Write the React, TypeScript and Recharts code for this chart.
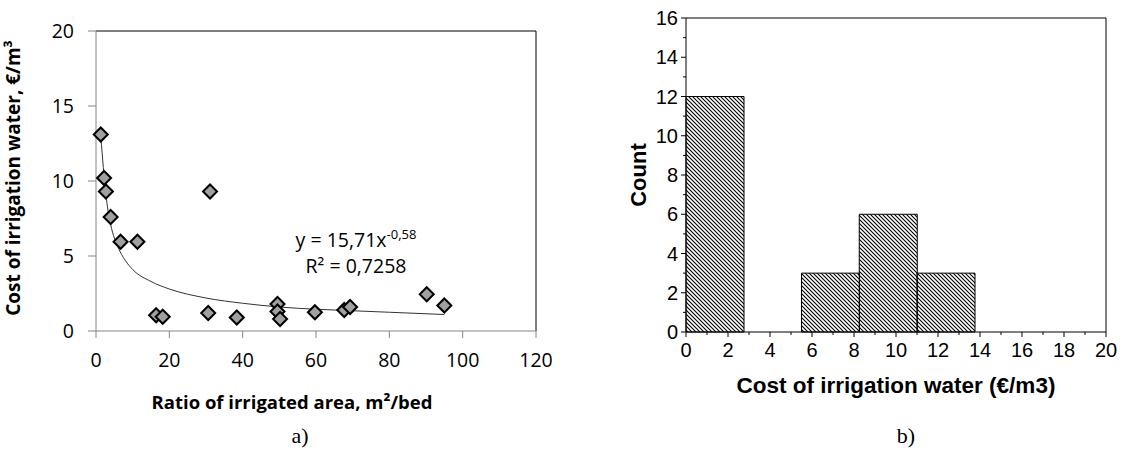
import React from 'react';
import { ComposedChart, Scatter, XAxis, YAxis, ReferenceLine, Bar } from 'recharts';

// ---- Panel a) scatter: ratio of irrigated area vs cost of irrigation water
const ratioX = [1.3, 2.2, 2.7, 4.0, 6.7, 11.3, 31.1, 16.4, 18.2, 30.6, 38.4, 49.5, 49.5, 50.2, 59.7, 67.7, 69.3, 90.2, 95.0];
const costY = [13.1, 10.2, 9.3, 7.6, 5.95, 5.95, 9.3, 1.05, 0.95, 1.2, 0.9, 1.8, 1.3, 0.8, 1.25, 1.4, 1.6, 2.45, 1.7];

// power trendline
const trendX = [1.3, 2, 3, 4, 6, 8, 10, 15, 20, 30, 40, 50, 60, 70, 80, 95];
const trendY = [13.0, 10.9, 8.5, 7.1, 5.6, 4.7, 4.1, 3.3, 2.8, 2.2, 1.85, 1.6, 1.45, 1.35, 1.25, 1.1];

const scatterXTicks = [0, 20, 40, 60, 80, 100, 120];
const scatterYTicks = [0, 5, 10, 15, 20];

// ---- Panel b) histogram
const binCenters = [1.375, 4.125, 6.875, 9.625, 12.375, 15.125, 17.875];
const binCounts = [12, 0, 3, 6, 3, 0, 0];
const histXTicks = [0, 1, 2, 3, 4, 5, 6, 7, 8, 9, 10, 11, 12, 13, 14, 15, 16, 17, 18, 19, 20];
const histYTicks = [0, 1, 2, 3, 4, 5, 6, 7, 8, 9, 10, 11, 12, 13, 14, 15, 16];

const points = ratioX.map((x, i) => ({ x, y: costY[i] }));
const trend = trendX.map((x, i) => ({ x, y: trendY[i] }));
const bins = binCenters.map((c, i) => ({ c, count: binCounts[i] }));

const OPEN = "'Open Sans', sans-serif";
const ARIAL = "'Liberation Sans', Arial, sans-serif";
const SERIF = "'Liberation Serif', 'Times New Roman', serif";

const Diamond = (props: any) => {
  const { cx, cy } = props;
  if (cx == null || cy == null) return <g />;
  const r = 7;
  return (
    <polygon
      points={`${cx},${cy - r} ${cx + r},${cy} ${cx},${cy + r} ${cx - r},${cy}`}
      fill="#a0a0a0"
      stroke="#000"
      strokeWidth={2}
    />
  );
};

const NoShape = () => <g />;

const HistXTick = (props: any) => {
  const { x, y, payload } = props;
  const v = payload.value;
  const major = v % 2 === 0;
  return (
    <g>
      <line x1={x} x2={x} y1={y} y2={y + (major ? 5 : 3)} stroke="#000" strokeWidth={1} />
      {major && (
        <text x={x} y={y + 11} dy="0.71em" textAnchor="middle" fill="#000" fontSize={20} fontFamily={ARIAL}>
          {v}
        </text>
      )}
    </g>
  );
};

const HistYTick = (props: any) => {
  const { x, y, payload } = props;
  const v = payload.value;
  const major = v % 2 === 0;
  return (
    <g>
      <line x1={x - (major ? 5 : 3)} x2={x} y1={y} y2={y} stroke="#000" strokeWidth={1} />
      {major && (
        <text x={x - 8} y={y} dy="0.355em" textAnchor="end" fill="#000" fontSize={20} fontFamily={ARIAL}>
          {v}
        </text>
      )}
    </g>
  );
};

export default function App() {
  return (
    <div style={{ position: 'absolute', left: 0, top: 0, width: 1127, height: 453, background: '#fff', overflow: 'hidden' }}>
      <div style={{ position: 'absolute', left: 0, top: 0 }}>
        <ComposedChart width={560} height={453} margin={{ top: 31, right: 24, bottom: 82, left: 0 }}>
          <XAxis
            type="number"
            dataKey="x"
            domain={[0, 120]}
            ticks={scatterXTicks}
            interval={0}
            height={40}
            tickSize={7}
            tickMargin={15}
            stroke="#868686"
            tick={{ fill: '#000', fontSize: 19.5, fontFamily: OPEN }}
          />
          <YAxis
            type="number"
            dataKey="y"
            domain={[0, 20]}
            ticks={scatterYTicks}
            interval={0}
            width={96}
            tickSize={8}
            tickMargin={14}
            stroke="#868686"
            tick={{ fill: '#000', fontSize: 19.5, fontFamily: OPEN }}
          />
          <ReferenceLine y={20} stroke="#000" strokeWidth={1} />
          <ReferenceLine x={120} stroke="#000" strokeWidth={1} />
          <Scatter
            data={trend}
            line={{ stroke: '#333', strokeWidth: 1 }}
            lineJointType="monotoneX"
            shape={NoShape}
            isAnimationActive={false}
          />
          <Scatter data={points} shape={Diamond} isAnimationActive={false} />
        </ComposedChart>
      </div>

      <div style={{ position: 'absolute', left: 560, top: 0 }}>
        <ComposedChart
          width={567}
          height={453}
          data={bins}
          margin={{ top: 18, right: 21, bottom: 81, left: 0 }}
          barCategoryGap={0}
          barGap={0}
        >
          <defs>
            <pattern id="hatch" patternUnits="userSpaceOnUse" width={4} height={4}>
              <path d="M-1,-1 L5,5 M-1,3 L1,5 M3,-1 L5,1" stroke="#000" strokeWidth={1.1} />
            </pattern>
          </defs>
          <XAxis
            type="number"
            dataKey="c"
            domain={[0, 20]}
            ticks={histXTicks}
            interval={0}
            height={40}
            tickSize={0}
            tickMargin={0}
            tickLine={false}
            stroke="#000"
            tick={<HistXTick />}
          />
          <YAxis
            type="number"
            domain={[0, 16]}
            ticks={histYTicks}
            interval={0}
            width={126}
            tickSize={0}
            tickMargin={0}
            tickLine={false}
            stroke="#000"
            tick={<HistYTick />}
          />
          <ReferenceLine y={16} stroke="#000" strokeWidth={1} />
          <ReferenceLine x={20} stroke="#000" strokeWidth={1} />
          <Bar dataKey="count" fill="url(#hatch)" stroke="#000" strokeWidth={1} isAnimationActive={false} />
        </ComposedChart>
      </div>

      <svg width={1127} height={453} style={{ position: 'absolute', left: 0, top: 0, pointerEvents: 'none' }}>
        <text
          transform="translate(13,178) rotate(-90)"
          textAnchor="middle"
          dominantBaseline="central"
          fontFamily={OPEN}
          fontWeight="bold"
          fontSize={19}
          fill="#000"
        >
          Cost of irrigation water, €/m³
        </text>
        <text x={292} y={409} textAnchor="middle" fontFamily={OPEN} fontWeight="bold" fontSize={18.5} fill="#000">
          Ratio of irrigated area, m²/bed
        </text>
        <text x={356} y={247} textAnchor="middle" fontFamily={OPEN} fontSize={19.5} fill="#000">
          y = 15,71x
          <tspan fontSize={13} dy={-8}>-0,58</tspan>
        </text>
        <text x={356} y={273} textAnchor="middle" fontFamily={OPEN} fontSize={19.5} fill="#000">
          R² = 0,7258
        </text>
        <text x={300} y={443} textAnchor="middle" fontFamily={SERIF} fontSize={22} fill="#000">
          a)
        </text>

        <text
          transform="translate(638,175) rotate(-90)"
          textAnchor="middle"
          dominantBaseline="central"
          fontFamily={ARIAL}
          fontWeight="bold"
          fontSize={22}
          fill="#000"
        >
          Count
        </text>
        <text x={896} y={393} textAnchor="middle" fontFamily={ARIAL} fontWeight="bold" fontSize={22.5} fill="#000">
          Cost of irrigation water (€/m3)
        </text>
        <text x={906} y={443} textAnchor="middle" fontFamily={SERIF} fontSize={22} fill="#000">
          b)
        </text>
      </svg>
    </div>
  );
}
